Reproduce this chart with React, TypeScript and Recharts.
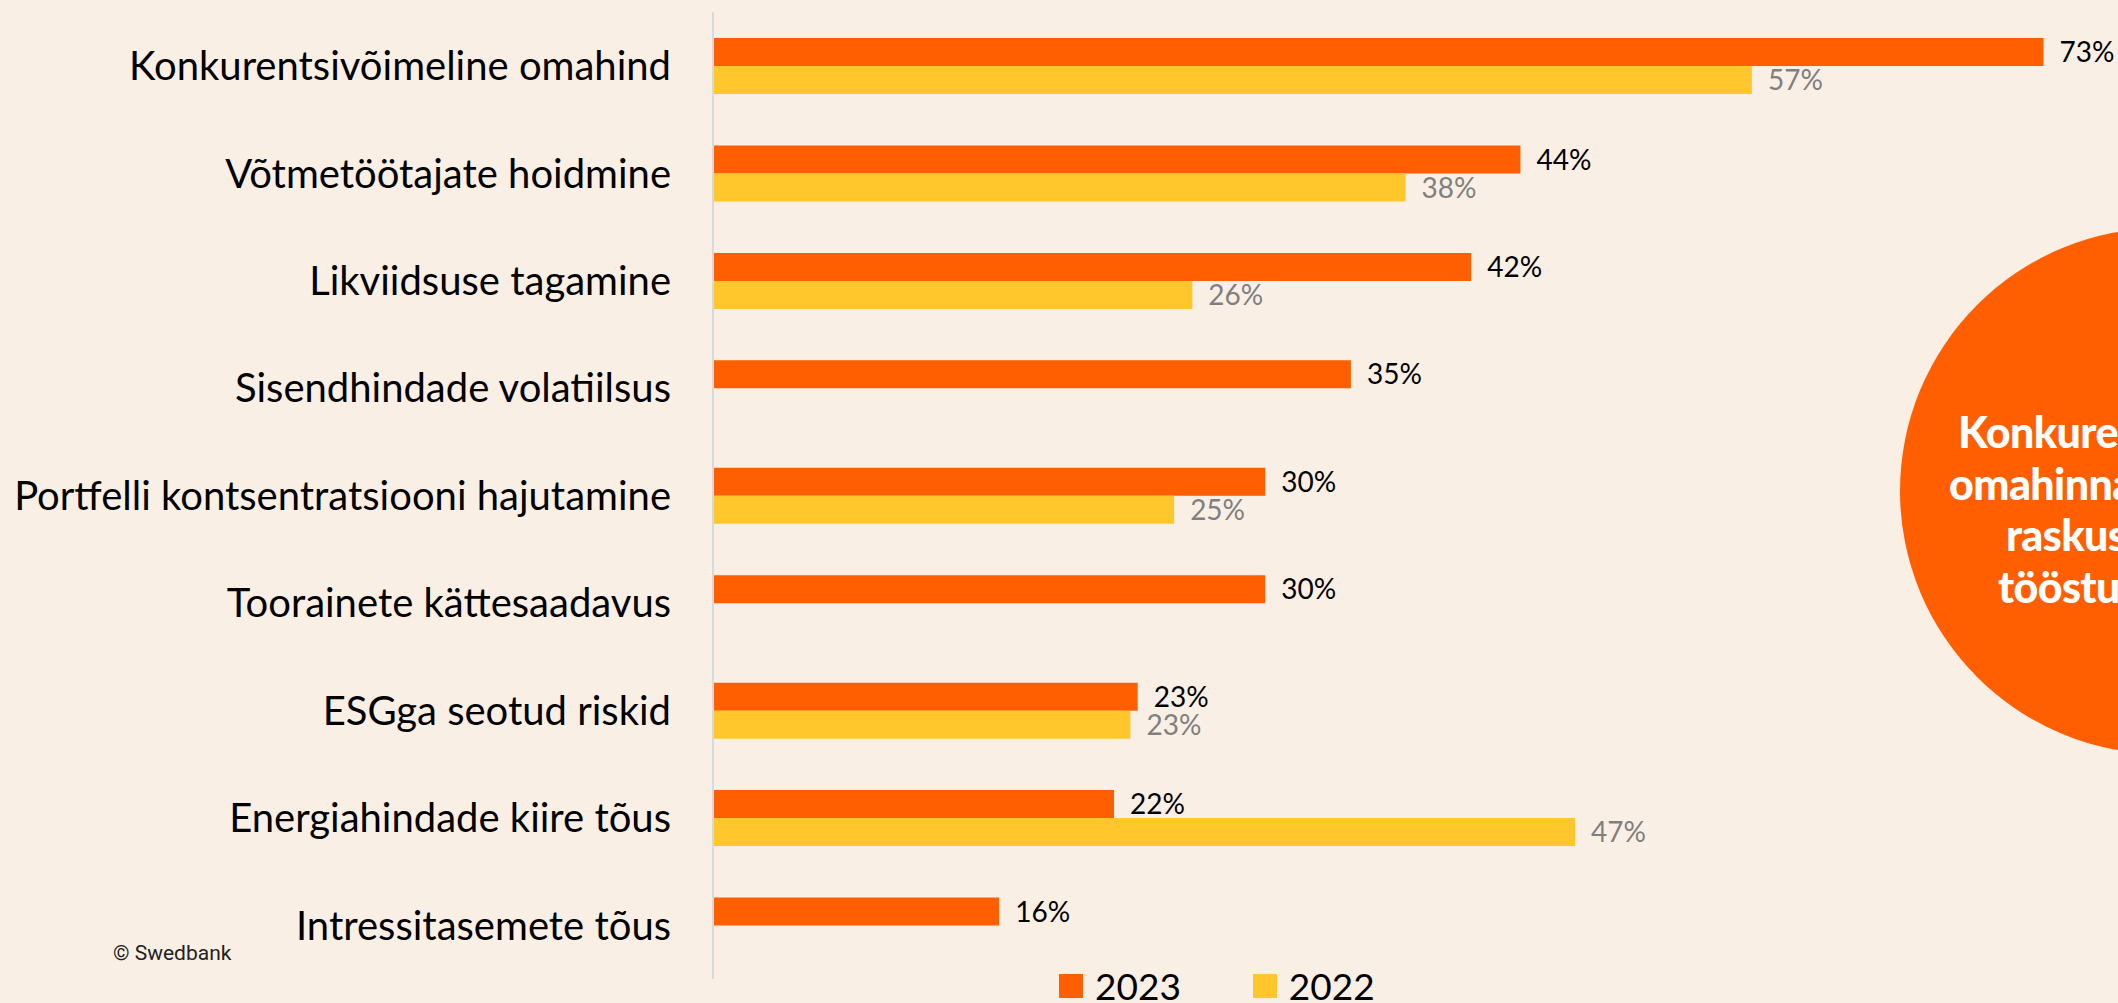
import React from 'react';
import { BarChart, Bar, XAxis, YAxis, LabelList } from 'recharts';

const CATEGORIES = [
  'Konkurentsivõimeline omahind',
  'Võtmetöötajate hoidmine',
  'Likviidsuse tagamine',
  'Sisendhindade volatiilsus',
  'Portfelli kontsentratsiooni hajutamine',
  'Toorainete kättesaadavus',
  'ESGga seotud riskid',
  'Energiahindade kiire tõus',
  'Intressitasemete tõus',
];
// shares in % (labels are rounded)
const VALUES_2023 = [73, 44.3, 41.6, 35, 30.3, 30.3, 23.3, 22, 15.7];
const VALUES_2022: (number | null)[] = [57, 38, 26.3, null, 25.3, null, 22.9, 47.3, null];

const SERIES = [
  { key: 'y2023', name: '2023', color: '#FF5F00', labelColor: '#000000' },
  { key: 'y2022', name: '2022', color: '#FFC72C', labelColor: '#7F7F7F' },
];

const CIRCLE_LINES = ['Konkurentsivõimelise', 'omahinnaga on', 'raskusi', 'tööstusel'];

const data = CATEGORIES.map((name, i) => ({
  name,
  y2023: VALUES_2023[i],
  y2022: VALUES_2022[i],
}));

const FONT = 'Lato, "Noto Sans", sans-serif';

function CategoryTick(props: any) {
  const { x, y, payload } = props;
  return (
    <text x={x} y={y} dy="0.36em" textAnchor="end" fontSize={40} fill="#000" fontFamily={FONT}>
      {payload.value}
    </text>
  );
}

function makeLabel(color: string) {
  return (props: any) => {
    const { x, y, width, height, value } = props;
    if (value === null || value === undefined) return null;
    return (
      <text
        x={x + width + 16}
        y={y + height / 2}
        dy="0.36em"
        fontSize={28}
        fill={color}
        fontFamily={FONT}
      >
        {Math.round(value)}%
      </text>
    );
  };
}

export default function App() {
  return (
    <div
      style={{
        position: 'absolute',
        left: 0,
        top: 0,
        width: 2118,
        height: 1003,
        overflow: 'hidden',
        background: '#FAEFE5',
        fontFamily: FONT,
      }}
    >
      <BarChart
        width={2118}
        height={1003}
        data={data}
        layout="vertical"
        margin={{ top: 12, right: 38, bottom: 24, left: 0 }}
        barSize={28}
        barGap={0}
      >
        <XAxis type="number" domain={[0, 75]} hide />
        <YAxis
          type="category"
          dataKey="name"
          width={713}
          tickSize={0}
          tickMargin={42}
          tick={<CategoryTick />}
          axisLine={{ stroke: '#D9D9D9', strokeWidth: 2 }}
          tickLine={false}
          interval={0}
        />
        {SERIES.map((s) => (
          <Bar key={s.key} dataKey={s.key} name={s.name} fill={s.color} isAnimationActive={false}>
            <LabelList dataKey={s.key} content={makeLabel(s.labelColor)} />
          </Bar>
        ))}
      </BarChart>

      <svg
        width={2118}
        height={1003}
        style={{ position: 'absolute', left: 0, top: 0, pointerEvents: 'none' }}
      >
        <circle cx={2163} cy={491} r={263} fill="#FF5F00" />
        {CIRCLE_LINES.map((line, i) => (
          <text
            key={line}
            x={[1958, 1949, 2006, 1998][i]}
            y={448 + i * 51.5}
            fontSize={43}
            fontWeight={900}
            letterSpacing={-0.6}
            fill="#FFFFFF"
            fontFamily={FONT}
          >
            {line}
          </text>
        ))}
      </svg>

      <div
        style={{
          position: 'absolute',
          left: 113,
          top: 941,
          fontSize: 21,
          fontFamily: 'Roboto, Arial, sans-serif',
          color: '#222',
          whiteSpace: 'nowrap',
        }}
      >
        © Swedbank
      </div>

      <div
        style={{
          position: 'absolute',
          left: 1059,
          top: 964,
          display: 'flex',
          alignItems: 'flex-end',
          gap: 72,
          whiteSpace: 'nowrap',
        }}
      >
        {SERIES.map((s) => (
          <div key={s.key} style={{ display: 'flex', alignItems: 'center' }}>
            <span style={{ width: 24, height: 24, background: s.color, display: 'inline-block', marginRight: 12 }} />
            <span style={{ fontSize: 37, lineHeight: '44px', color: '#000' }}>{s.name}</span>
          </div>
        ))}
      </div>
    </div>
  );
}
